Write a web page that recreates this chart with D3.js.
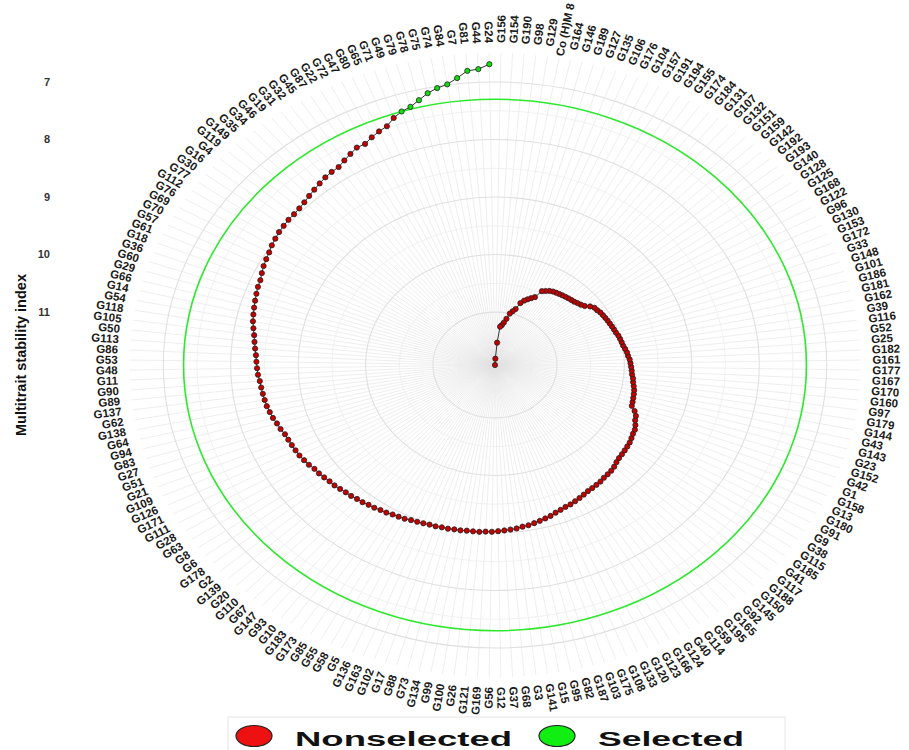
<!DOCTYPE html>
<html>
<head>
<meta charset="utf-8">
<script src="https://cdn.jsdelivr.net/npm/d3@7"></script>
<style>
  body { margin: 0; background: #fff; }
  text { font-family: "Liberation Sans", Arial, sans-serif; }
</style>
</head>
<body>
<div id="chart"></div>
<script>

// Genotypes ranked by MTSI (lowest first), as read around the circle
var genotypes = [
  "G24","G44","G81","G7","G84","G74","G75","G78","G79","G49",
  "G71","G65","G80","G47","G72","G22","G87","G45","G32","G31",
  "G19","G46","G34","G35","G149","G119","G4","G16","G30","G77",
  "G112","G76","G69","G70","G57","G61","G18","G36","G60","G29",
  "G66","G14","G54","G118","G105","G50","G113","G86","G53","G48",
  "G11","G90","G89","G137","G62","G138","G64","G94","G83","G27",
  "G51","G21","G109","G126","G171","G111","G28","G63","G8","G6",
  "G178","G2","G139","G20","G110","G67","G147","G93","G10","G183",
  "G173","G85","G55","G58","G5","G136","G163","G102","G17","G88",
  "G73","G134","G99","G100","G26","G121","G169","G56","G12","G37",
  "G68","G3","G141","G15","G95","G82","G187","G103","G175","G108",
  "G133","G120","G123","G166","G124","G40","G114","G59","G195","G165",
  "G92","G145","G150","G188","G117","G41","G185","G115","G38","G9",
  "G91","G180","G13","G158","G1","G42","G152","G23","G143","G43",
  "G144","G179","G97","G160","G170","G167","G177","G161","G182","G25",
  "G52","G116","G39","G162","G181","G186","G101","G148","G33","G172",
  "G153","G130","G96","G122","G168","G125","G128","G140","G193","G192",
  "G142","G159","G151","G132","G107","G131","G184","G174","G155","G194",
  "G191","G157","G104","G176","G106","G135","G127","G189","G146","G164",
  "Co (H)M 8","G129","G98","G190","G154","G156"
];

// Multitrait stability index, same order
var mtsi = [
  6.69, 6.77, 6.79, 6.90, 6.99, 7.03, 7.09, 7.18, 7.26, 7.30,
  7.37, 7.47, 7.51, 7.56, 7.62, 7.62, 7.67, 7.72, 7.77, 7.78,
  7.80, 7.83, 7.86, 7.89, 7.92, 7.94, 7.95, 7.95, 7.96, 7.97,
  7.99, 8.01, 8.04, 8.06, 8.08, 8.11, 8.14, 8.15, 8.17, 8.19,
  8.21, 8.23, 8.25, 8.28, 8.31, 8.33, 8.35, 8.37, 8.38, 8.39,
  8.40, 8.42, 8.43, 8.44, 8.45, 8.46, 8.48, 8.50, 8.53, 8.55,
  8.58, 8.59, 8.60, 8.61, 8.62, 8.64, 8.66, 8.69, 8.70, 8.72,
  8.74, 8.75, 8.77, 8.79, 8.80, 8.82, 8.83, 8.85, 8.86, 8.88,
  8.89, 8.91, 8.92, 8.93, 8.95, 8.96, 8.97, 8.98, 8.98, 8.99,
  8.99, 9.00, 9.00, 9.01, 9.01, 9.01, 9.02, 9.02, 9.03, 9.04,
  9.05, 9.06, 9.08, 9.09, 9.11, 9.13, 9.15, 9.17, 9.20, 9.22,
  9.24, 9.25, 9.27, 9.29, 9.31, 9.33, 9.34, 9.35, 9.36, 9.38,
  9.39, 9.40, 9.42, 9.45, 9.47, 9.48, 9.49, 9.50, 9.51, 9.53,
  9.55, 9.56, 9.59, 9.63, 9.65, 9.70, 9.77, 9.78, 9.79, 9.80,
  9.81, 9.83, 9.85, 9.86, 9.88, 9.89, 9.90, 9.91, 9.92, 9.94,
  9.95, 9.97, 9.99, 10.00, 10.01, 10.02, 10.04, 10.05, 10.06, 10.07,
  10.08, 10.09, 10.10, 10.11, 10.13, 10.14, 10.18, 10.24, 10.27, 10.29,
  10.31, 10.32, 10.33, 10.34, 10.35, 10.36, 10.37, 10.38, 10.40, 10.43,
  10.46, 10.60, 10.64, 10.68, 10.72, 10.78, 10.90, 10.95, 11.00, 11.10,
  11.17, 11.22, 11.25, 11.53, 11.81, 11.92
];

var selectedGenotypes = ["G24","G44","G81","G7","G84","G74","G75","G78","G79","G49"];

var radialTicks = [7, 8, 9, 10, 11];
var radialMinor = [7.5, 8.5, 9.5, 10.5, 11.5];

var legendItems = ["Nonselected", "Selected"];

// Layout
var width = 909, height = 750;
var cx = 495, cy = 365;
var xStretch = 1.172;   // the picture is wider than tall
var spokeR = 312, labelR = 322;

var svg = d3.select("#chart")
  .append("svg")
  .attr("width", width)
  .attr("height", height);

// Scales
var thetaScale = d3.scalePoint()
  .domain(genotypes.slice().reverse())
  .range([0, 2 * Math.PI])
  .padding(0.5);

var rScale = d3.scaleLinear()
  .domain([11.92, 7])
  .range([0, 283]);

function xPos(theta, r) { return cx + r * xStretch * Math.sin(theta); }
function yPos(theta, r) { return cy - r * Math.cos(theta); }

var data = genotypes.map(function(g, i) {
  return { gen: g, value: mtsi[i], selected: selectedGenotypes.indexOf(g) >= 0 };
});

// Spokes
svg.append("g")
  .selectAll("line")
  .data(genotypes)
  .enter().append("line")
  .attr("x1", cx)
  .attr("y1", cy)
  .attr("x2", function(d) { return xPos(thetaScale(d), spokeR); })
  .attr("y2", function(d) { return yPos(thetaScale(d), spokeR); })
  .attr("stroke", "#e2e2e2")
  .attr("stroke-width", 0.6);

// Circles (grid)
svg.append("g")
  .selectAll("ellipse")
  .data(radialMinor)
  .enter().append("ellipse")
  .attr("cx", cx).attr("cy", cy)
  .attr("rx", function(d) { return rScale(d) * xStretch; })
  .attr("ry", function(d) { return rScale(d); })
  .attr("fill", "none")
  .attr("stroke", "#eeeeee")
  .attr("stroke-width", 0.8);

svg.append("g")
  .selectAll("ellipse")
  .data(radialTicks)
  .enter().append("ellipse")
  .attr("cx", cx).attr("cy", cy)
  .attr("rx", function(d) { return rScale(d) * xStretch; })
  .attr("ry", function(d) { return rScale(d); })
  .attr("fill", "none")
  .attr("stroke", "#e0e0e0")
  .attr("stroke-width", 1.1);

// Cut point = highest MTSI among selected genotypes
var cutPoint = d3.max(data.filter(function(d) { return d.selected; }), function(d) { return d.value; });

svg.append("ellipse")
  .attr("cx", cx).attr("cy", cy)
  .attr("rx", rScale(cutPoint) * xStretch)
  .attr("ry", rScale(cutPoint))
  .attr("fill", "none")
  .attr("stroke", "#2ee82e")
  .attr("stroke-width", 1.6);

// Line + points
var line = d3.line()
  .x(function(d) { return xPos(thetaScale(d.gen), rScale(d.value)); })
  .y(function(d) { return yPos(thetaScale(d.gen), rScale(d.value)); });

svg.append("path")
  .datum(data)
  .attr("d", line)
  .attr("fill", "none")
  .attr("stroke", "#333")
  .attr("stroke-width", 1);

svg.append("g")
  .selectAll("circle")
  .data(data)
  .enter().append("circle")
  .attr("cx", function(d) { return xPos(thetaScale(d.gen), rScale(d.value)); })
  .attr("cy", function(d) { return yPos(thetaScale(d.gen), rScale(d.value)); })
  .attr("r", 2.6)
  .attr("fill", function(d) { return d.selected ? "#11dd11" : "#c40000"; })
  .attr("stroke", "#222")
  .attr("stroke-width", 0.8);

// Genotype labels, radial (the long check name sits a little lower, as in the original)
svg.append("g")
  .selectAll("text")
  .data(genotypes)
  .enter().append("text")
  .text(function(d) { return d; })
  .attr("font-size", 11.5)
  .attr("font-weight", "bold")
  .attr("fill", "#1a1a1a")
  .attr("dominant-baseline", "central")
  .attr("text-anchor", function(d) { return thetaScale(d) < Math.PI ? "start" : "end"; })
  .attr("transform", function(d) {
    var t = thetaScale(d);
    var r = d.length > 5 ? labelR - 8 : labelR;
    var a = Math.atan2(-Math.cos(t), xStretch * Math.sin(t)) * 180 / Math.PI;
    if (t >= Math.PI) a += 180;
    return "translate(" + xPos(t, r) + "," + yPos(t, r) + ") rotate(" + a + ")";
  });

// Radial axis tick labels
svg.append("g")
  .selectAll("text")
  .data(radialTicks)
  .enter().append("text")
  .text(function(d) { return d; })
  .attr("x", 50)
  .attr("y", function(d) { return cy - rScale(d); })
  .attr("dy", "0.35em")
  .attr("text-anchor", "end")
  .attr("font-size", 11)
  .attr("font-weight", "bold")
  .attr("fill", "#333");

// Axis title
svg.append("text")
  .text("Multitrait stability index")
  .attr("transform", "translate(26,355) rotate(-90)")
  .attr("text-anchor", "middle")
  .attr("font-size", 14.5)
  .attr("font-weight", "bold")
  .attr("fill", "#111");

// Legend
svg.append("rect")
  .attr("x", 228).attr("y", 717)
  .attr("width", 557).attr("height", 40)
  .attr("fill", "none")
  .attr("stroke", "#e6e6e6")
  .attr("stroke-width", 1);

var legendX = [254, 557];
var legendTextX = [295, 598];
var legendTextW = [217, 146];
var legendFill = ["#ee1111", "#11ee11"];

legendItems.forEach(function(name, i) {
  svg.append("ellipse")
    .attr("cx", legendX[i]).attr("cy", 736)
    .attr("rx", 18).attr("ry", 10.5)
    .attr("fill", legendFill[i])
    .attr("stroke", "#222")
    .attr("stroke-width", 1.2);
  svg.append("text")
    .text(name)
    .attr("x", legendTextX[i])
    .attr("y", 746)
    .attr("font-size", 21)
    .attr("font-weight", "bold")
    .attr("fill", "#111")
    .attr("textLength", legendTextW[i])
    .attr("lengthAdjust", "spacingAndGlyphs");
});

</script>
</body>
</html>
